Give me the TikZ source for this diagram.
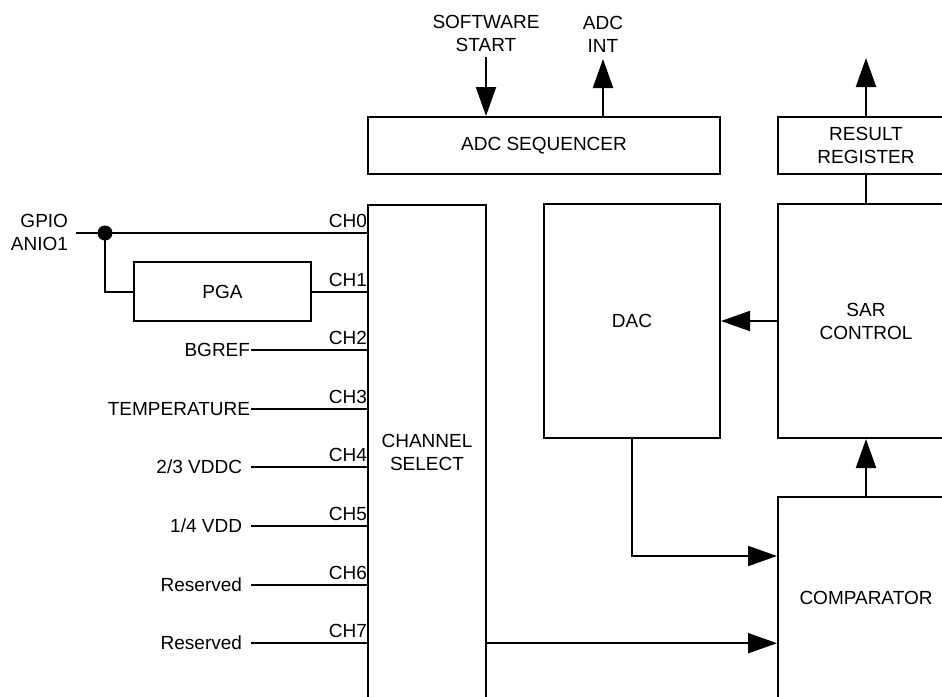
\documentclass[tikz,border=0pt]{standalone}
\usepackage{fontspec}
\setmainfont{Liberation Sans}
\usetikzlibrary{arrows.meta}
\newcommand\lblfont{\fontsize{19}{23}\selectfont}
\begin{document}
\begin{tikzpicture}[x=1pt,y=-1pt,line width=2pt,
  box/.style={draw,rectangle,inner sep=0pt,align=center,font=\lblfont},
  lbl/.style={inner sep=0pt,align=center,font=\lblfont},
  arr/.style={-{Triangle[length=29pt,width=20pt]}}]
\useasboundingbox (0,0) rectangle (942,696);
\clip (0,0) rectangle (942,696);
% blocks
\node[box,minimum width=352pt,minimum height=57pt] (seq) at (544,145.5) {ADC SEQUENCER};
\node[box,minimum width=118pt,minimum height=494pt] (chs) at (427,452) {CHANNEL\\SELECT};
\node[box,minimum width=177pt,minimum height=59pt] (pga) at (222.5,291.6) {PGA};
\node[box,minimum width=176pt,minimum height=234pt] (dac) at (632,321) {DAC};
\node[box,minimum width=176pt,minimum height=234pt] (sar) at (866,321) {SAR\\CONTROL};
\node[box,minimum width=176pt,minimum height=57pt] (reg) at (866,145.5) {RESULT\\REGISTER};
\node[box,minimum width=176pt,minimum height=202pt] (cmp) at (866,598) {COMPARATOR};
% top labels
\node[lbl,anchor=south] (sw) at (486,53) {SOFTWARE\\START};
\node[lbl,anchor=south] (ai) at (603,53) {ADC\\INT};
\coordinate (regout) at (866,58);
\draw[arr] ([yshift=-4pt]sw.south) -- (seq.north -| sw.south);
\draw[arr] (seq.north -| ai.south) -- ([yshift=-6pt]ai.south);
\draw[arr] (reg.north) -- (regout);
\draw (sar.north) -- (reg.south);
\draw[arr] (cmp.north) -- (sar.south);
\draw[arr] (sar.west) -- (dac.east);
\draw[arr] (dac.south) |- ([yshift=42pt]cmp.west);
\coordinate (ch7out) at (486,643.2);
\draw[arr] (ch7out) -- (cmp.west |- ch7out);
% GPIO input
\node[lbl,anchor=east,align=right] (gpio) at (69,232.5) {GPIO\\ANIO1};
\coordinate (g0) at (76,233);
\node[circle,fill,inner sep=0pt,minimum size=15pt] (dot) at (105,233) {};
\draw (g0) -- (chs.west |- g0);
\draw (dot.center) |- (pga.west);
\draw (pga.east) -- (chs.west |- pga.east);
% channel labels
\node[lbl,anchor=base east] (ch0) at (368,227.5) {CH0};
\node[lbl,anchor=base east] (ch1) at (368,286.1) {CH1};
\node[lbl,anchor=base east] (ch2) at (368,344.7) {CH2};
\node[lbl,anchor=base east] (ch3) at (368,403.3) {CH3};
\node[lbl,anchor=base east] (ch4) at (368,461.9) {CH4};
\node[lbl,anchor=base east] (ch5) at (368,520.5) {CH5};
\node[lbl,anchor=base east] (ch6) at (368,579.1) {CH6};
\node[lbl,anchor=base east] (ch7) at (368,637.7) {CH7};
% other inputs
\coordinate (i2) at (251,350.2);
\coordinate (i3) at (251,408.8);
\coordinate (i4) at (251,467.4);
\coordinate (i5) at (251,526.0);
\coordinate (i6) at (251,584.6);
\coordinate (i7) at (251,643.2);
\foreach \k in {2,...,7}{\draw (i\k) -- (chs.west |- i\k);}
\node[lbl,anchor=base east] (t2) at (251,356.7) {BGREF};
\node[lbl,anchor=base east] (t3) at (251,415.3) {TEMPERATURE};
\node[lbl,anchor=base east] (t4) at (243,473.9) {2/3 VDDC};
\node[lbl,anchor=base east] (t5) at (243,532.5) {1/4 VDD};
\node[lbl,anchor=base east] (t6) at (243,591.1) {Reserved};
\node[lbl,anchor=base east] (t7) at (243,649.7) {Reserved};
\end{tikzpicture}
\end{document}
